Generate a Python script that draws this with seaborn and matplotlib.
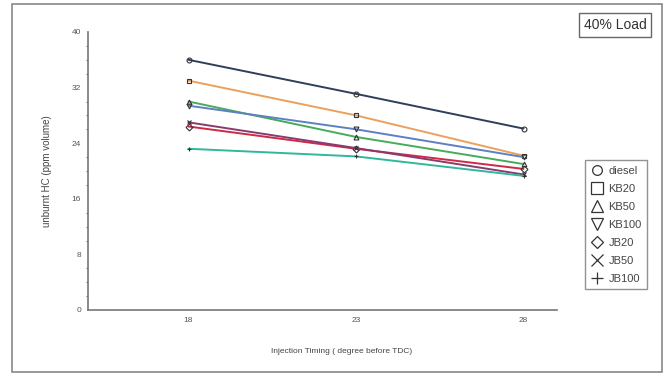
import matplotlib
matplotlib.use("Agg")
import matplotlib.pyplot as plt
from matplotlib.lines import Line2D
from matplotlib.patches import Rectangle
from matplotlib.ticker import MultipleLocator
import seaborn as sns
import pandas as pd

sns.set_style("white")
plt.rcParams["font.family"] = ["Liberation Sans", "DejaVu Sans"]

# Injection timing (degree before TDC)
timing = [18, 23, 28]

# Unburnt HC (ppm volume) per fuel
diesel = [36.0, 31.1, 26.1]
kb20 = [33.0, 28.0, 22.2]
kb50 = [30.0, 24.9, 21.0]
kb100 = [29.4, 26.0, 22.0]
jb20 = [26.4, 23.2, 20.3]
jb50 = [27.0, 23.3, 19.5]
jb100 = [23.2, 22.1, 19.3]

fuels = ["diesel", "KB20", "KB50", "KB100", "JB20", "JB50", "JB100"]
series = [diesel, kb20, kb50, kb100, jb20, jb50, jb100]
colors = ["#2e3f5c", "#eba05e", "#45ad5a", "#5d80c4", "#cc2a45", "#8a3a6e", "#2fb89c"]
markers = ["o", "s", "^", "v", "D", "x", "+"]
legend_sizes = [7, 8, 8, 8, 6, 8, 8]

df = pd.DataFrame(
    [(t, v, f) for f, vals in zip(fuels, series) for t, v in zip(timing, vals)],
    columns=["timing", "hc", "fuel"],
)

fig = plt.figure(figsize=(6.72, 3.74), dpi=100)
ax = fig.add_axes([88 / 672, 1 - 310 / 374, (557 - 88) / 672, (310 - 32) / 374])

for f, c, m in zip(fuels, colors, markers):
    sub = df[df["fuel"] == f]
    sns.lineplot(
        data=sub, x="timing", y="hc", ax=ax, color=c, linewidth=1.4,
        marker=m, markersize=3.5, markerfacecolor="none",
        markeredgecolor="#333333", markeredgewidth=0.8, legend=False,
    )

ax.set_xlim(15, 29)
ax.set_ylim(0, 40)
ax.set_xticks(timing)
ax.set_yticks([0, 8, 16, 24, 32, 40])
ax.yaxis.set_minor_locator(MultipleLocator(2))
ax.tick_params(axis="both", which="major", labelsize=6, colors="#555555",
               direction="out", length=3, width=0.8, pad=2)
ax.tick_params(axis="y", which="minor", direction="out", length=1.5,
               width=0.6, colors="#555555", left=True)
ax.tick_params(axis="x", which="major", length=3)
for side in ["top", "right"]:
    ax.spines[side].set_visible(False)
for side in ["left", "bottom"]:
    ax.spines[side].set_color("#777777")
    ax.spines[side].set_linewidth(1.2)

ax.set_xlabel("Injection Timing ( degree before TDC)", fontsize=6, color="#444444")
ax.xaxis.set_label_coords(0.54, -0.135)
ax.set_ylabel("unburnt HC (ppm volume)", fontsize=7, color="#444444")
ax.yaxis.set_label_coords(-0.077, 0.5)

handles = [
    Line2D([], [], linestyle="none", marker=m, markersize=s,
           markerfacecolor="none", markeredgecolor="#333333", markeredgewidth=0.9)
    for m, s in zip(markers, legend_sizes)
]
leg = fig.legend(
    handles, fuels, loc="upper left", bbox_to_anchor=(585 / 672, 1 - 160 / 374),
    fontsize=8, frameon=True, fancybox=False, handlelength=1.1,
    handletextpad=0.5, labelspacing=0.72, borderpad=0.5, borderaxespad=0,
)
leg.get_frame().set_edgecolor("#777777")
leg.get_frame().set_linewidth(1.0)
for t in leg.get_texts():
    t.set_color("#444444")

fig.text(615 / 672, 1 - 25 / 374, "40% Load", fontsize=10, color="#333333",
         ha="center", va="center",
         bbox=dict(boxstyle="square,pad=0.35", facecolor="white",
                   edgecolor="#666666", linewidth=1.0))

fig.patches.append(Rectangle((12 / 672, 2 / 374), (662 - 12) / 672, (372 - 4) / 374,
                             transform=fig.transFigure, fill=False,
                             edgecolor="#888888", linewidth=1.2))

fig.savefig("out.png", dpi=100)
